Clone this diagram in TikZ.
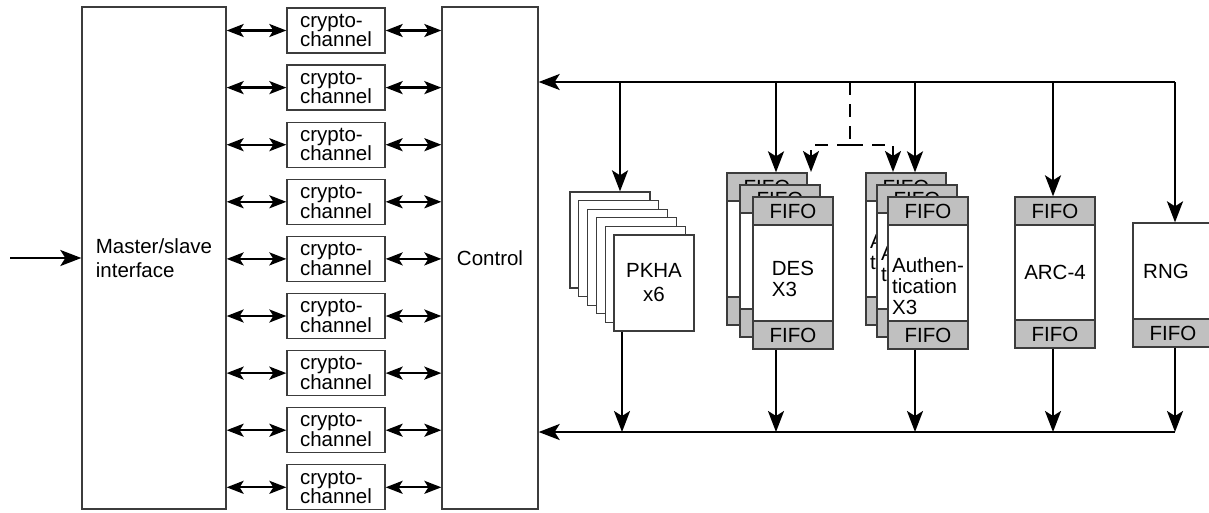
\documentclass[tikz,border=0pt]{standalone}
\usepackage{fontspec}
\setmainfont{Liberation Sans}
\usetikzlibrary{arrows.meta}
\definecolor{edgegray}{RGB}{60,60,60}
\definecolor{fifogray}{RGB}{192,192,192}
\tikzset{
    box/.style={draw=edgegray, line width=1.3pt, fill=white, inner sep=0pt},
    chan/.style={box, minimum width=98pt, minimum height=45pt, align=left, font=\fontsize{20.5pt}{19.5pt}\selectfont},
    engine/.style={box, minimum width=80pt, minimum height=152pt},
    fifo/.style={box, fill=fifogray, minimum width=80pt, minimum height=28pt},
    page/.style={box, minimum width=80pt, minimum height=96pt, align=center},
    enginetext/.style={align=left, inner sep=0pt, anchor=north, font=\fontsize{20.5pt}{21pt}\selectfont},
    arr/.style={-{Stealth[length=21pt,width=16pt,inset=5pt]}, line width=2.3pt},
    dbl/.style={{Stealth[length=17pt,width=13pt,inset=4pt]}-{Stealth[length=17pt,width=13pt,inset=4pt]}, line width=2.3pt},
    dashline/.style={dash pattern=on 13pt off 9pt},
}
\begin{document}
\begin{tikzpicture}[x=1pt, y=-1pt, font=\fontsize{20.5pt}{24pt}\selectfont]
    \useasboundingbox (0,0) rectangle (1209,512);

    % Interface and control
    \node[box, minimum width=144pt, minimum height=502pt, align=left] (master) at (154,258) {Master/slave\\interface};
    \node[box, minimum width=96pt, minimum height=502pt] (control) at (490,258) {Control};

    % Crypto-channels
    \node[chan] (ch1) at (336,30.5) {crypto-\\channel};
    \node[chan] (ch2) at (336,87.6) {crypto-\\channel};
    \node[chan] (ch3) at (336,144.7) {crypto-\\channel};
    \node[chan] (ch4) at (336,201.8) {crypto-\\channel};
    \node[chan] (ch5) at (336,258.9) {crypto-\\channel};
    \node[chan] (ch6) at (336,316.0) {crypto-\\channel};
    \node[chan] (ch7) at (336,373.1) {crypto-\\channel};
    \node[chan] (ch8) at (336,430.2) {crypto-\\channel};
    \node[chan] (ch9) at (336,487.3) {crypto-\\channel};

    % PKHA pages
    \node[page] (pk1) at (610,240) {};
    \node[page] (pk2) at (618.8,248.6) {};
    \node[page] (pk3) at (627.6,257.2) {};
    \node[page] (pk4) at (636.4,265.8) {};
    \node[page] (pk5) at (645.2,274.4) {};
    \node[page] (pk6) at (654,283) {PKHA\\x6};

    % DES stack
    \node[engine] (des1) at (767,249) {};
    \node[enginetext] (des1txt) at ([yshift=12pt]des1.center) {DES\\X3};
    \node[fifo, anchor=north] (des1in) at (des1.north) {FIFO};
    \node[fifo, anchor=south] (des1out) at (des1.south) {FIFO};
    \node[engine] (des2) at (780,261) {};
    \node[enginetext] (des2txt) at ([yshift=12pt]des2.center) {DES\\X3};
    \node[fifo, anchor=north] (des2in) at (des2.north) {FIFO};
    \node[fifo, anchor=south] (des2out) at (des2.south) {FIFO};
    \node[engine] (des3) at (793,273) {};
    \node[enginetext] (des3txt) at ([yshift=12pt]des3.center) {DES\\X3};
    \node[fifo, anchor=north] (des3in) at (des3.north) {FIFO};
    \node[fifo, anchor=south] (des3out) at (des3.south) {FIFO};

    % Authentication stack
    \node[engine] (auth1) at (906,249) {};
    \node[enginetext] (auth1txt) at ([yshift=16pt]auth1.center) {Authen-\\tication};
    \node[fifo, anchor=north] (auth1in) at (auth1.north) {FIFO};
    \node[fifo, anchor=south] (auth1out) at (auth1.south) {FIFO};
    \node[engine] (auth2) at (917,261) {};
    \node[enginetext] (auth2txt) at ([yshift=16pt]auth2.center) {Authen-\\tication};
    \node[fifo, anchor=north] (auth2in) at (auth2.north) {FIFO};
    \node[fifo, anchor=south] (auth2out) at (auth2.south) {FIFO};
    \node[engine] (auth3) at (928,273) {};
    \node[enginetext] (auth3txt) at ([yshift=16pt]auth3.center) {Authen-\\tication\\X3};
    \node[fifo, anchor=north] (auth3in) at (auth3.north) {FIFO};
    \node[fifo, anchor=south] (auth3out) at (auth3.south) {FIFO};

    % ARC-4 and RNG
    \node[engine, minimum height=151pt] (arc) at (1055,272.5) {ARC-4};
    \node[fifo, anchor=north] (arcin) at (arc.north) {FIFO};
    \node[fifo, anchor=south] (arcout) at (arc.south) {FIFO};
    \node[engine, minimum height=124pt] (rng) at (1173,285) {};
    \node (rngtxt) at (1166,271) {RNG};
    \node[fifo, anchor=south] (rngout) at (rng.south) {FIFO};

    % Input and channel links
    \coordinate (in) at (10,258);
    \draw[arr] (in) -- (master);
    \draw[dbl] (master.east |- ch1) -- (ch1);
    \draw[dbl] (ch1) -- (control.west |- ch1);
    \draw[dbl] (master.east |- ch2) -- (ch2);
    \draw[dbl] (ch2) -- (control.west |- ch2);
    \draw[dbl] (master.east |- ch3) -- (ch3);
    \draw[dbl] (ch3) -- (control.west |- ch3);
    \draw[dbl] (master.east |- ch4) -- (ch4);
    \draw[dbl] (ch4) -- (control.west |- ch4);
    \draw[dbl] (master.east |- ch5) -- (ch5);
    \draw[dbl] (ch5) -- (control.west |- ch5);
    \draw[dbl] (master.east |- ch6) -- (ch6);
    \draw[dbl] (ch6) -- (control.west |- ch6);
    \draw[dbl] (master.east |- ch7) -- (ch7);
    \draw[dbl] (ch7) -- (control.west |- ch7);
    \draw[dbl] (master.east |- ch8) -- (ch8);
    \draw[dbl] (ch8) -- (control.west |- ch8);
    \draw[dbl] (master.east |- ch9) -- (ch9);
    \draw[dbl] (ch9) -- (control.west |- ch9);

    % Top bus
    \coordinate (topend) at (1175,82);
    \coordinate (tpk) at (620,82);
    \coordinate (tdes) at (776,82);
    \coordinate (tauth) at (915,82);
    \coordinate (tarc) at (1053,82);
    \draw[arr] (topend) -- (topend -| control.east);
    \draw[arr] (tpk) -- (tpk |- pk1.north);
    \draw[arr] (tdes) -- (tdes |- des1.north);
    \draw[arr] (tauth) -- (tauth |- auth1.north);
    \draw[arr] (tarc) -- (tarc |- arc.north);
    \draw[arr] (topend) -- (topend |- rng.north);

    % Dashed branch
    \coordinate (dtop) at (850,82);
    \coordinate (dmid) at (850,145);
    \coordinate (dleft) at (811,172);
    \coordinate (dright) at (893,172);
    \draw[line width=2.3pt, dashline] (dtop) -- (dmid);
    \draw[arr, dashline] (dmid) -| (dleft);
    \draw[arr, dashline] (dmid) -| (dright);

    % Bottom bus
    \coordinate (botend) at (1175,432);
    \coordinate (bpk) at (622,432);
    \coordinate (bdes) at (776,432);
    \coordinate (bauth) at (915,432);
    \coordinate (barc) at (1053,432);
    \draw[arr] (botend) -- (botend -| control.east);
    \draw[arr] (bpk |- pk6.south) -- (bpk);
    \draw[arr] (bdes |- des3out.south) -- (bdes);
    \draw[arr] (bauth |- auth3out.south) -- (bauth);
    \draw[arr] (barc |- arcout.south) -- (barc);
    \draw[arr] (botend |- rngout.south) -- (botend);
\end{tikzpicture}
\end{document}
